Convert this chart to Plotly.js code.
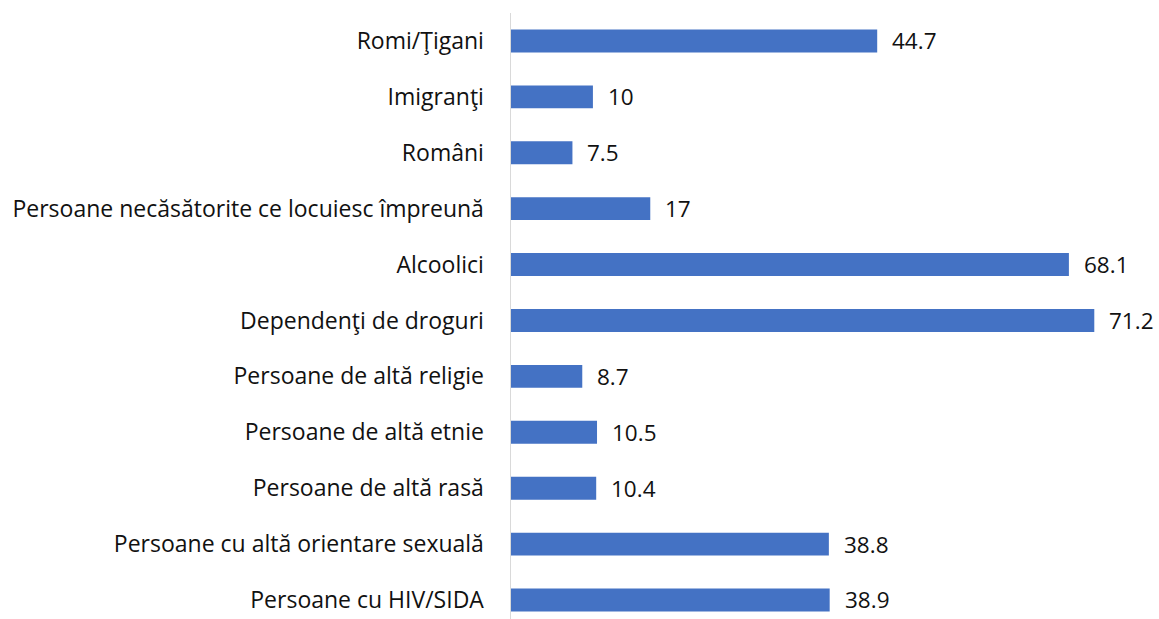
<!DOCTYPE html>
<html>
<head>
<meta charset="utf-8">
<script src="https://cdn.plot.ly/plotly-3.0.1.min.js"></script>
<style>html,body{margin:0;padding:0;background:#fff;}#chart{width:1159px;height:619px;}</style>
</head>
<body>
<div id="chart"></div>
<script>
const categories = [
  "Romi/Ţigani",
  "Imigranţi",
  "Români",
  "Persoane necăsătorite ce locuiesc împreună",
  "Alcoolici",
  "Dependenţi de droguri",
  "Persoane de altă religie",
  "Persoane de altă etnie",
  "Persoane de altă rasă",
  "Persoane cu altă orientare sexuală",
  "Persoane cu HIV/SIDA"
];
const values = [44.7, 10, 7.5, 17, 68.1, 71.2, 8.7, 10.5, 10.4, 38.8, 38.9];

const FONT = "'Open Sans', sans-serif";

const trace = {
  type: "bar",
  orientation: "h",
  x: values,
  y: categories,
  marker: {color: "#4472C4"},
  hoverinfo: "x+y"
};

const annotations = values.map((v, i) => ({
  x: v, y: categories[i], xref: "x", yref: "y",
  text: String(v), showarrow: false, xanchor: "left", yanchor: "middle",
  xshift: 13, font: {family: FONT, size: 22.5, color: "#111"}
}));

const layout = {
  width: 1159, height: 619,
  margin: {l: 511, r: 9, t: 13, b: 0, pad: 0},
  paper_bgcolor: "#fff", plot_bgcolor: "#fff",
  bargap: 0.59,
  showlegend: false,
  xaxis: {range: [0, 78], visible: false, fixedrange: true},
  yaxis: {
    type: "category",
    range: [10.34, -0.5],
    showline: true, linecolor: "#d9d9d9", linewidth: 1.5,
    showgrid: false, zeroline: false,
    ticks: "outside", ticklen: 21, tickcolor: "rgba(0,0,0,0)",
    tickfont: {family: FONT, size: 23, color: "#111"}
  },
  annotations: annotations
};

Plotly.newPlot("chart", [trace], layout, {displayModeBar: false, staticPlot: true});
</script>
</body>
</html>
